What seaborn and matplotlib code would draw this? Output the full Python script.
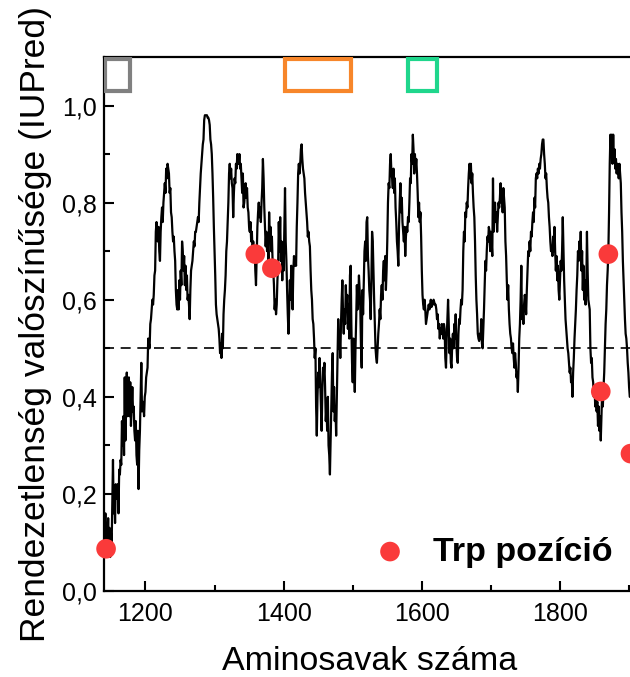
import numpy as np
import pandas as pd
import matplotlib
matplotlib.use("Agg")
import matplotlib.pyplot as plt
from matplotlib.patches import Rectangle
import seaborn as sns

# IUPred disorder score, one value per residue starting at residue 1140
first_residue = 1140
disorder = [
    0.15, 0.12, 0.16, 0.09, 0.14, 0.11, 0.15, 0.10, 0.13, 0.07,  # 1140
    0.12, 0.09, 0.18, 0.27, 0.16, 0.20, 0.14, 0.22, 0.19, 0.21,  # 1150
    0.22, 0.16, 0.25, 0.24, 0.27, 0.26, 0.35, 0.30, 0.36, 0.28,  # 1160
    0.44, 0.31, 0.38, 0.45, 0.36, 0.40, 0.44, 0.36, 0.43, 0.34,  # 1170
    0.38, 0.42, 0.37, 0.38, 0.33, 0.31, 0.35, 0.28, 0.26, 0.33,  # 1180
    0.21, 0.29, 0.33, 0.40, 0.47, 0.37, 0.39, 0.38, 0.36, 0.40,  # 1190
    0.41, 0.44, 0.45, 0.46, 0.52, 0.51, 0.50, 0.55, 0.56, 0.58,  # 1200
    0.60, 0.59, 0.61, 0.65, 0.66, 0.74, 0.76, 0.74, 0.72, 0.75,  # 1210
    0.70, 0.68, 0.74, 0.77, 0.79, 0.76, 0.80, 0.82, 0.84, 0.82,  # 1220
    0.87, 0.85, 0.88, 0.87, 0.86, 0.82, 0.83, 0.78, 0.77, 0.74,  # 1230
    0.72, 0.73, 0.70, 0.68, 0.62, 0.59, 0.58, 0.62, 0.58, 0.64,  # 1240
    0.60, 0.66, 0.63, 0.72, 0.70, 0.66, 0.69, 0.63, 0.67, 0.62,  # 1250
    0.65, 0.60, 0.61, 0.59, 0.56, 0.62, 0.66, 0.67, 0.68, 0.70,  # 1260
    0.72, 0.71, 0.74, 0.74, 0.75, 0.76, 0.77, 0.76, 0.80, 0.83,  # 1270
    0.86, 0.88, 0.90, 0.92, 0.93, 0.97, 0.98, 0.98, 0.98, 0.98,  # 1280
    0.975, 0.975, 0.97, 0.96, 0.93, 0.92, 0.90, 0.86, 0.81, 0.75,  # 1290
    0.70, 0.65, 0.59, 0.57, 0.56, 0.55, 0.54, 0.52, 0.49, 0.51,  # 1300
    0.48, 0.53, 0.50, 0.57, 0.60, 0.62, 0.65, 0.70, 0.72, 0.76,  # 1310
    0.80, 0.86, 0.88, 0.85, 0.87, 0.84, 0.83, 0.77, 0.82, 0.85,  # 1320
    0.84, 0.88, 0.87, 0.90, 0.89, 0.88, 0.90, 0.87, 0.88, 0.85,  # 1330
    0.82, 0.86, 0.79, 0.80, 0.82, 0.84, 0.81, 0.83, 0.79, 0.78,  # 1340
    0.75, 0.74, 0.76, 0.72, 0.74, 0.70, 0.72, 0.69, 0.71, 0.66,  # 1350
    0.63, 0.69, 0.75, 0.78, 0.80, 0.77, 0.79, 0.76, 0.80, 0.83,  # 1360
    0.89, 0.85, 0.79, 0.75, 0.71, 0.74, 0.70, 0.73, 0.67, 0.78,  # 1370
    0.72, 0.75, 0.70, 0.73, 0.68, 0.66, 0.63, 0.58, 0.60, 0.57,  # 1380
    0.59, 0.64, 0.67, 0.76, 0.70, 0.77, 0.68, 0.72, 0.64, 0.70,  # 1390
    0.66, 0.74, 0.83, 0.72, 0.68, 0.62, 0.57, 0.53, 0.58, 0.64,  # 1400
    0.60, 0.67, 0.63, 0.58, 0.66, 0.69, 0.67, 0.68, 0.67, 0.75,  # 1410
    0.80, 0.86, 0.88, 0.86, 0.88, 0.91, 0.92, 0.89, 0.87, 0.86,  # 1420
    0.85, 0.82, 0.80, 0.78, 0.76, 0.73, 0.74, 0.72, 0.71, 0.66,  # 1430
    0.62, 0.60, 0.56, 0.55, 0.52, 0.48, 0.50, 0.38, 0.32, 0.40,  # 1440
    0.45, 0.42, 0.48, 0.43, 0.38, 0.33, 0.41, 0.46, 0.44, 0.47,  # 1450
    0.42, 0.35, 0.38, 0.33, 0.40, 0.30, 0.28, 0.24, 0.31, 0.38,  # 1460
    0.45, 0.49, 0.37, 0.42, 0.35, 0.38, 0.32, 0.40, 0.47, 0.56,  # 1470
    0.50, 0.53, 0.48, 0.55, 0.60, 0.64, 0.57, 0.53, 0.58, 0.55,  # 1480
    0.63, 0.58, 0.61, 0.54, 0.59, 0.52, 0.65, 0.67, 0.55, 0.47,  # 1490
    0.43, 0.52, 0.46, 0.41, 0.50, 0.56, 0.63, 0.58, 0.60, 0.65,  # 1500
    0.62, 0.58, 0.50, 0.46, 0.62, 0.57, 0.64, 0.70, 0.72, 0.68,  # 1510
    0.76, 0.77, 0.69, 0.66, 0.62, 0.60, 0.56, 0.64, 0.74, 0.72,  # 1520
    0.66, 0.60, 0.55, 0.50, 0.48, 0.47, 0.50, 0.53, 0.55, 0.58,  # 1530
    0.56, 0.61, 0.63, 0.60, 0.66, 0.68, 0.64, 0.69, 0.62, 0.66,  # 1540
    0.72, 0.80, 0.84, 0.83, 0.88, 0.90, 0.86, 0.85, 0.83, 0.87,  # 1550
    0.82, 0.85, 0.79, 0.76, 0.72, 0.70, 0.67, 0.75, 0.80, 0.84,  # 1560
    0.78, 0.81, 0.76, 0.74, 0.72, 0.75, 0.69, 0.73, 0.75, 0.74,  # 1570
    0.77, 0.76, 0.80, 0.85, 0.84, 0.90, 0.88, 0.94, 0.91, 0.86,  # 1580
    0.90, 0.87, 0.89, 0.86, 0.82, 0.77, 0.80, 0.76, 0.78, 0.73,  # 1590
    0.66, 0.61, 0.59, 0.58, 0.60, 0.58, 0.55, 0.56, 0.57, 0.58,  # 1600
    0.59, 0.58, 0.59, 0.60, 0.585, 0.59, 0.59, 0.60, 0.595, 0.59,  # 1610
    0.59, 0.58, 0.56, 0.57, 0.54, 0.55, 0.52, 0.54, 0.53, 0.55,  # 1620
    0.54, 0.52, 0.55, 0.54, 0.48, 0.46, 0.52, 0.56, 0.60, 0.55,  # 1630
    0.49, 0.52, 0.47, 0.46, 0.51, 0.53, 0.50, 0.55, 0.52, 0.57,  # 1640
    0.51, 0.48, 0.47, 0.53, 0.56, 0.55, 0.58, 0.60, 0.59, 0.62,  # 1650
    0.70, 0.74, 0.72, 0.78, 0.77, 0.80, 0.79, 0.83, 0.86, 0.88,  # 1660
    0.85, 0.88, 0.84, 0.86, 0.82, 0.79, 0.77, 0.72, 0.65, 0.60,  # 1670
    0.57, 0.53, 0.52, 0.515, 0.53, 0.52, 0.56, 0.51, 0.50, 0.54,  # 1680
    0.58, 0.63, 0.68, 0.66, 0.70, 0.73, 0.72, 0.75, 0.74, 0.70,  # 1690
    0.74, 0.72, 0.69, 0.85, 0.74, 0.79, 0.80, 0.76, 0.78, 0.74,  # 1700
    0.77, 0.80, 0.79, 0.81, 0.84, 0.80, 0.82, 0.78, 0.83, 0.81,  # 1710
    0.79, 0.72, 0.69, 0.64, 0.60, 0.63, 0.58, 0.55, 0.53, 0.52,  # 1720
    0.50, 0.49, 0.51, 0.48, 0.46, 0.49, 0.47, 0.44, 0.45, 0.41,  # 1730
    0.46, 0.52, 0.55, 0.60, 0.67, 0.56, 0.58, 0.55, 0.59, 0.61,  # 1740
    0.60, 0.57, 0.62, 0.66, 0.70, 0.69, 0.72, 0.70, 0.74, 0.73,  # 1750
    0.76, 0.78, 0.76, 0.81, 0.79, 0.85, 0.86, 0.85, 0.87, 0.86,  # 1760
    0.88, 0.87, 0.89, 0.90, 0.92, 0.93, 0.93, 0.90, 0.88, 0.85,  # 1770
    0.86, 0.83, 0.81, 0.80, 0.77, 0.75, 0.72, 0.70, 0.71, 0.69,  # 1780
    0.73, 0.70, 0.75, 0.70, 0.66, 0.69, 0.64, 0.67, 0.62, 0.60,  # 1790
    0.64, 0.68, 0.66, 0.70, 0.77, 0.70, 0.64, 0.60, 0.56, 0.54,  # 1800
    0.52, 0.50, 0.49, 0.47, 0.45, 0.46, 0.43, 0.44, 0.40, 0.45,  # 1810
    0.48, 0.52, 0.55, 0.58, 0.62, 0.65, 0.70, 0.68, 0.72, 0.69,  # 1820
    0.74, 0.66, 0.70, 0.62, 0.67, 0.60, 0.64, 0.59, 0.62, 0.74,  # 1830
    0.66, 0.60, 0.59, 0.58, 0.50, 0.47, 0.48, 0.44, 0.43, 0.40,  # 1840
    0.42, 0.38, 0.41, 0.37, 0.39, 0.34, 0.38, 0.33, 0.36, 0.31,  # 1850
    0.36, 0.41, 0.38, 0.42, 0.45, 0.50, 0.55, 0.58, 0.63, 0.66,  # 1860
    0.70, 0.78, 0.88, 0.94, 0.91, 0.94, 0.88, 0.94, 0.89, 0.91,  # 1870
    0.87, 0.89, 0.86, 0.88, 0.87, 0.85, 0.88, 0.86, 0.84, 0.78,  # 1880
    0.74, 0.68, 0.64, 0.60, 0.56, 0.53, 0.52, 0.50, 0.47, 0.45,  # 1890
    0.42, 0.40, 0.40,                                            # 1900
]
residues = np.arange(first_residue, first_residue + len(disorder))

# tryptophan positions
trp_pos = [1143, 1359, 1383, 1859, 1870, 1902]
trp_val = [0.087, 0.694, 0.665, 0.411, 0.694, 0.283]

# marked regions at the top
region_start = [1141, 1402, 1580]
region_end = [1178, 1497, 1622]
region_colors = ["#808080", "#f7862a", "#1fd68c"]

threshold = 0.5

df = pd.DataFrame({"residue": residues, "score": disorder})
trp = pd.DataFrame({"residue": trp_pos, "score": trp_val})

sns.set_theme(style="ticks")
plt.rcParams["font.family"] = ["Liberation Sans", "DejaVu Sans"]
plt.rcParams["text.color"] = "black"
plt.rcParams["axes.labelcolor"] = "black"

fig = plt.figure(figsize=(6.3, 6.77), dpi=100)
ax = fig.add_axes([104 / 630, 86 / 677, 532 / 630, 534 / 677])

sns.lineplot(data=df, x="residue", y="score", ax=ax, color="black", lw=1.6)
ax.axhline(threshold, color="black", lw=1.2, ls=(0, (6, 4)), zorder=1)
sns.scatterplot(data=trp, x="residue", y="score", ax=ax, color="#fa3a3a",
                s=200, edgecolor="none", zorder=5, label="Trp pozíció",
                clip_on=False)

for x0, x1, c in zip(region_start, region_end, region_colors):
    ax.add_patch(Rectangle((x0, 1.029), x1 - x0, 0.066, fill=False,
                           edgecolor=c, lw=3.0, zorder=4))

ax.set_xlim(1140, 1910)
ax.set_ylim(0, 1.1)
ax.set_xticks([1200, 1400, 1600, 1800])
ax.set_xticks([1300, 1500, 1700, 1900], minor=True)
ax.set_yticks([0, 0.2, 0.4, 0.6, 0.8, 1.0])
ax.set_yticks([0.1, 0.3, 0.5, 0.7, 0.9], minor=True)
ax.set_yticklabels(["0,0", "0,2", "0,4", "0,6", "0,8", "1,0"])
ax.tick_params(which="major", direction="in", length=7, width=1.5,
               labelsize=18, colors="black")
ax.tick_params(axis="x", which="major", pad=8)
ax.tick_params(axis="y", which="major", pad=5)
ax.tick_params(which="minor", direction="in", length=4, width=1.5,
               colors="black")
for sp in ax.spines.values():
    sp.set_linewidth(1.6)
    sp.set_color("black")

ax.set_xlabel("Aminosavak száma", fontsize=24.5, labelpad=14)
ax.set_ylabel("Rendezetlenség valószínűsége (IUPred)", fontsize=25.5,
              labelpad=7)

leg = ax.legend(loc="center left", bbox_to_anchor=(373 / 630, 1 - 552 / 677),
                bbox_transform=fig.transFigure, frameon=False,
                handlelength=1.0, handletextpad=0.75, borderpad=0,
                borderaxespad=0, prop={"size": 24.5, "weight": "bold"},
                markerscale=1.0)

fig.savefig("out.png", dpi=100)
